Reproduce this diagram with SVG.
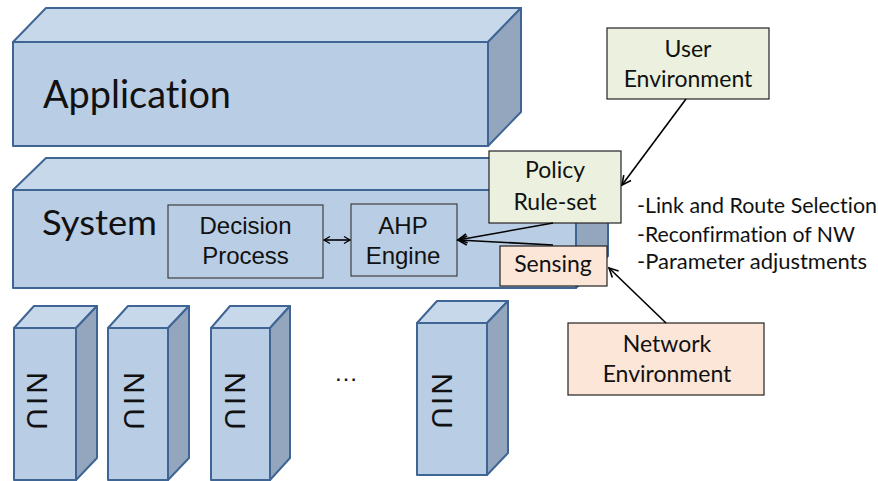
<svg xmlns="http://www.w3.org/2000/svg" width="878" height="481" viewBox="0 0 878 481">
<defs>
<style>
.front{fill:#B9CDE5;stroke:#3F6594;stroke-width:2;stroke-linejoin:round}
.top{fill:#C8D8EB;stroke:#3F6594;stroke-width:2;stroke-linejoin:round}
.side{fill:#94A6BE;stroke:#3F6594;stroke-width:2;stroke-linejoin:round}
.cal{font-family:Lato,"Liberation Sans",sans-serif;fill:#111;font-variant-ligatures:none}
.ari{font-family:"Liberation Sans",Arial,sans-serif;fill:#111}
.niu{font-family:"Liberation Sans",Arial,sans-serif;fill:#111;font-size:30px}
.inner{fill:none;stroke:#404040;stroke-width:1.2}
.green{fill:#EBF1DE;stroke:#222;stroke-width:1.2}
.peach{fill:#FCE6D8;stroke:#222;stroke-width:1.2}
.conn{stroke:#000;stroke-width:1.6;fill:none}
</style>
<marker id="ah" markerWidth="12" markerHeight="12" refX="10" refY="6" orient="auto" markerUnits="userSpaceOnUse">
<path d="M1,1.5 L10,6 L1,10.5" fill="none" stroke="#000" stroke-width="1.6"/>
</marker>
<marker id="ahs" markerWidth="10" markerHeight="10" refX="7" refY="5" orient="auto-start-reverse" markerUnits="userSpaceOnUse">
<path d="M1,1.5 L7,5 L1,8.5" fill="none" stroke="#000" stroke-width="1.3"/>
</marker>
</defs>
<rect width="878" height="481" fill="#fff"/>

<g id="application">
<polygon class="top" points="13,42 46,8 521,8 488,42"/>
<polygon class="side" points="488,42 521,8 521,112 488,146"/>
<rect class="front" x="13" y="42" width="475" height="104"/>
<text class="cal" x="43" y="108" font-size="39" textLength="188" lengthAdjust="spacingAndGlyphs">Application</text>
</g>

<g id="system">
<polygon class="top" points="13,190 46,158 608,158 576,190"/>
<polygon class="side" points="576,190 608,158 608,256 576,288"/>
<rect class="front" x="13" y="190" width="563" height="98"/>
<text class="cal" x="42" y="235" font-size="35" textLength="115" lengthAdjust="spacingAndGlyphs">System</text>
</g>

<g id="decision">
<rect class="inner" x="168" y="205" width="155" height="73"/>
<text class="ari" font-size="24" text-anchor="middle"><tspan x="245.5" y="234">Decision</tspan><tspan x="245.5" y="264">Process</tspan></text>
</g>

<g id="ahp">
<rect class="inner" x="351" y="204" width="106" height="72"/>
<text class="ari" font-size="24" text-anchor="middle"><tspan x="403" y="234">AHP</tspan><tspan x="403" y="264">Engine</tspan></text>
</g>

<g id="policy">
<rect class="green" x="489" y="151" width="132" height="72"/>
<text class="cal" font-size="23" text-anchor="middle"><tspan x="555" y="178">Policy</tspan><tspan x="555" y="210">Rule-set</tspan></text>
</g>

<g id="sensing">
<rect class="peach" x="500" y="246" width="107" height="40"/>
<text class="cal" x="553" y="272" font-size="23" text-anchor="middle">Sensing</text>
</g>

<g id="user-env">
<rect class="green" x="607" y="28" width="162" height="71"/>
<text class="cal" font-size="23" text-anchor="middle"><tspan x="688" y="57">User</tspan><tspan x="688" y="87">Environment</tspan></text>
</g>

<g id="network-env">
<rect class="peach" x="568" y="323" width="196" height="72"/>
<text class="cal" font-size="23" text-anchor="middle"><tspan x="667" y="352">Network</tspan><tspan x="667" y="382">Environment</tspan></text>
</g>

<g id="functions">
<text class="cal" x="637" y="213" font-size="21" textLength="240" lengthAdjust="spacingAndGlyphs">-Link and Route Selection</text>
<text class="cal" x="637" y="242" font-size="21" textLength="218" lengthAdjust="spacingAndGlyphs">-Reconfirmation of NW</text>
<text class="cal" x="637" y="269" font-size="21" textLength="230" lengthAdjust="spacingAndGlyphs">-Parameter adjustments</text>
</g>

<g id="niu1">
<polygon class="top" points="14,328 34,306 97,306 76,328"/>
<polygon class="side" points="76,328 97,306 97,458 76,480"/>
<rect class="front" x="14" y="328" width="62" height="152"/>
<text class="niu" transform="translate(27,401) rotate(90)" text-anchor="middle" textLength="58" lengthAdjust="spacing">NIU</text>
</g>

<g id="niu2">
<polygon class="top" points="108,328 128,306 189,306 168,328"/>
<polygon class="side" points="168,328 189,306 189,458 168,480"/>
<rect class="front" x="108" y="328" width="60" height="152"/>
<text class="niu" transform="translate(124,401) rotate(90)" text-anchor="middle" textLength="58" lengthAdjust="spacing">NIU</text>
</g>

<g id="niu3">
<polygon class="top" points="211,328 230,306 290,306 270,328"/>
<polygon class="side" points="270,328 290,306 290,458 270,480"/>
<rect class="front" x="211" y="328" width="59" height="152"/>
<text class="niu" transform="translate(225,401) rotate(90)" text-anchor="middle" textLength="58" lengthAdjust="spacing">NIU</text>
</g>

<g id="ellipsis">
<text class="ari" x="346" y="381" font-size="24" text-anchor="middle">…</text>
</g>

<g id="niu4">
<polygon class="top" points="417,323 437,301 508,301 487,323"/>
<polygon class="side" points="487,323 508,301 508,453 487,475"/>
<rect class="front" x="417" y="323" width="70" height="152"/>
<text class="niu" transform="translate(432,401) rotate(90)" text-anchor="middle" textLength="56" lengthAdjust="spacing">NIU</text>
</g>

<g id="connectors">
<line class="conn" x1="324" y1="240" x2="350" y2="240" stroke-width="1.3" marker-start="url(#ahs)" marker-end="url(#ahs)"/>
<line class="conn" x1="553" y1="223" x2="458" y2="240" marker-end="url(#ah)"/>
<line class="conn" x1="553" y1="245" x2="458" y2="240" marker-end="url(#ah)"/>
<line class="conn" x1="686" y1="99" x2="622" y2="185" marker-end="url(#ah)"/>
<line class="conn" x1="666" y1="323" x2="609" y2="268" marker-end="url(#ah)"/>
</g>
</svg>
